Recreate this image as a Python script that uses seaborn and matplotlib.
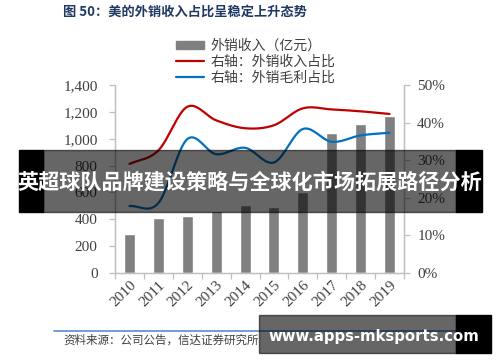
import numpy as np
import pandas as pd
import matplotlib
matplotlib.use("Agg")
import matplotlib.pyplot as plt
import seaborn as sns
from matplotlib.patches import Rectangle, Patch
from matplotlib.lines import Line2D

# data
years = ["2010", "2011", "2012", "2013", "2014", "2015", "2016", "2017", "2018", "2019"]
export_rev = [292, 412, 425, 458, 505, 495, 600, 1045, 1110, 1172]      # 亿元
export_rev_share = [29.0, 32.6, 44.2, 40.6, 38.5, 39.3, 43.8, 43.5, 43.0, 42.3]   # %
export_gp_share = [17.8, 18.6, 35.6, 31.6, 33.3, 29.4, 38.3, 34.9, 36.6, 37.3]    # %

title = "图 50：美的外销收入占比呈稳定上升态势"
legend_labels = ["外销收入（亿元）", "右轴：外销收入占比", "右轴：外销毛利占比"]
source = "资料来源：公司公告，信达证券研究所"
banner = "英超球队品牌建设策略与全球化市场拓展路径分析"
watermark = "www.apps-mksports.com"

sns.set_style("white")
plt.rcParams["font.family"] = ["Noto Sans CJK SC", "DejaVu Sans"]

BAR = "#808080"
RED = "#C00000"
BLUE = "#0070C0"
AXC = "#BFBFBF"
TXT = "#404040"


def smooth(y, n=20):
    # catmull-rom through the points, like excel's smoothed line
    y = np.asarray(y, float)
    p = np.concatenate([[2 * y[0] - y[1]], y, [2 * y[-1] - y[-2]]])
    xs, ys = [], []
    for i in range(len(y) - 1):
        p0, p1, p2, p3 = p[i], p[i + 1], p[i + 2], p[i + 3]
        t = np.linspace(0, 1, n, endpoint=False)
        ys.append(0.5 * (2 * p1 + (-p0 + p2) * t + (2 * p0 - 5 * p1 + 4 * p2 - p3) * t ** 2
                         + (-p0 + 3 * p1 - 3 * p2 + p3) * t ** 3))
        xs.append(i + t)
    xs.append([len(y) - 1])
    ys.append([y[-1]])
    return np.concatenate(xs), np.concatenate(ys)


df = pd.DataFrame({"year": years, "rev": export_rev})

fig = plt.figure(figsize=(5, 3.62), dpi=100)
ax = fig.add_axes([115 / 500, 1 - 273 / 362, 289 / 500, 188 / 362])

sns.barplot(data=df, x="year", y="rev", color=BAR, width=0.38, saturation=1, ax=ax)
ax.set_ylim(0, 1400)
ax.set_xlim(-0.5, 9.5)
ax.set_yticks(range(0, 1401, 200))
ax.set_yticklabels([f"{v:,}" for v in range(0, 1401, 200)])
ax.set_xlabel("")
ax.set_ylabel("")

ax2 = ax.twinx()
xr, yr = smooth(export_rev_share)
xb, yb = smooth(export_gp_share)
sns.lineplot(x=xr, y=yr, color=RED, lw=1.6, ax=ax2, sort=False)
sns.lineplot(x=xb, y=yb, color=BLUE, lw=1.6, ax=ax2, sort=False)
ax2.set_ylim(0, 50)
ax2.set_yticks(range(0, 51, 10))
ax2.set_yticklabels([f"{v}%" for v in range(0, 51, 10)])
ax2.set_xlim(-0.5, 9.5)

for a in (ax, ax2):
    a.spines["top"].set_visible(False)
    for s in ("left", "right", "bottom"):
        a.spines[s].set_color(AXC)
        a.spines[s].set_linewidth(0.9)

serif = {"family": "Liberation Serif", "size": 11}
ax.tick_params(axis="y", left=True, length=4, width=0.9, color=AXC, pad=8.5, labelcolor=TXT)
ax2.tick_params(axis="y", right=True, length=4, width=0.9, color=AXC, pad=5.5, labelcolor=TXT)
for lab in ax.get_yticklabels() + ax2.get_yticklabels():
    lab.set_fontproperties(serif)

ax.set_xticks(np.arange(-0.5, 10, 1), minor=True)
ax.tick_params(axis="x", which="minor", bottom=True, length=4, width=0.9, color=AXC)
ax.tick_params(axis="x", which="major", bottom=False, length=0, pad=4, labelcolor=TXT)
for lab in ax.get_xticklabels():
    lab.set_fontproperties(serif)
    lab.set_rotation(45)
    lab.set_ha("right")
    lab.set_va("top")
    lab.set_rotation_mode("anchor")

handles = [Patch(color=BAR), Line2D([], [], color=RED, lw=1.6), Line2D([], [], color=BLUE, lw=1.6)]
fig.legend(handles, legend_labels, loc="upper left", bbox_to_anchor=(176 / 500, 1 - 39 / 362),
           frameon=False, fontsize=10, labelcolor=TXT, handlelength=2.0, handleheight=0.45,
           handletextpad=0.5, labelspacing=0.12, borderpad=0, borderaxespad=0)

fig.text(63 / 500, 1 - 12 / 362, title, fontsize=9.5, fontweight="bold", color="#1F3864",
         ha="left", va="center")

# source line + note
fig.add_artist(Line2D([54 / 500, 456 / 500], [1 - 331 / 362] * 2, color="#5B8BD0", lw=1.2))
fig.text(63 / 500, 1 - 340 / 362, source, fontsize=8.3, style="italic", color=TXT,
         ha="left", va="center")

# overlays on top of the picture
H = 362
fig.patches.append(Rectangle((19 / 500, 1 - 212 / H), 24 / 500, 62 / H, transform=fig.transFigure,
                             color="black", zorder=10))
fig.patches.append(Rectangle((456 / 500, 1 - 212 / H), 26 / 500, 62 / H, transform=fig.transFigure,
                             color="black", zorder=10))
fig.patches.append(Rectangle((43 / 500, 1 - 212 / H), 413 / 500, 62 / H, transform=fig.transFigure,
                             color="black", alpha=0.6, zorder=10))
fig.text(250 / 500, 1 - 182 / H, banner, fontsize=15.2, fontweight="bold", color="white",
         ha="center", va="center", zorder=11)

fig.patches.append(Rectangle((259 / 500, 1 - 353 / H), 197 / 500, 38 / H, transform=fig.transFigure,
                             color="black", alpha=0.6, zorder=10))
fig.patches.append(Rectangle((456 / 500, 1 - 353 / H), 35 / 500, 38 / H, transform=fig.transFigure,
                             color="black", zorder=10))
fig.text(374 / 500, 1 - 337 / H, watermark, fontsize=10.7, fontweight="bold", color="white",
         family="DejaVu Sans", ha="center", va="center", zorder=11)

fig.savefig("out.png", dpi=100)
